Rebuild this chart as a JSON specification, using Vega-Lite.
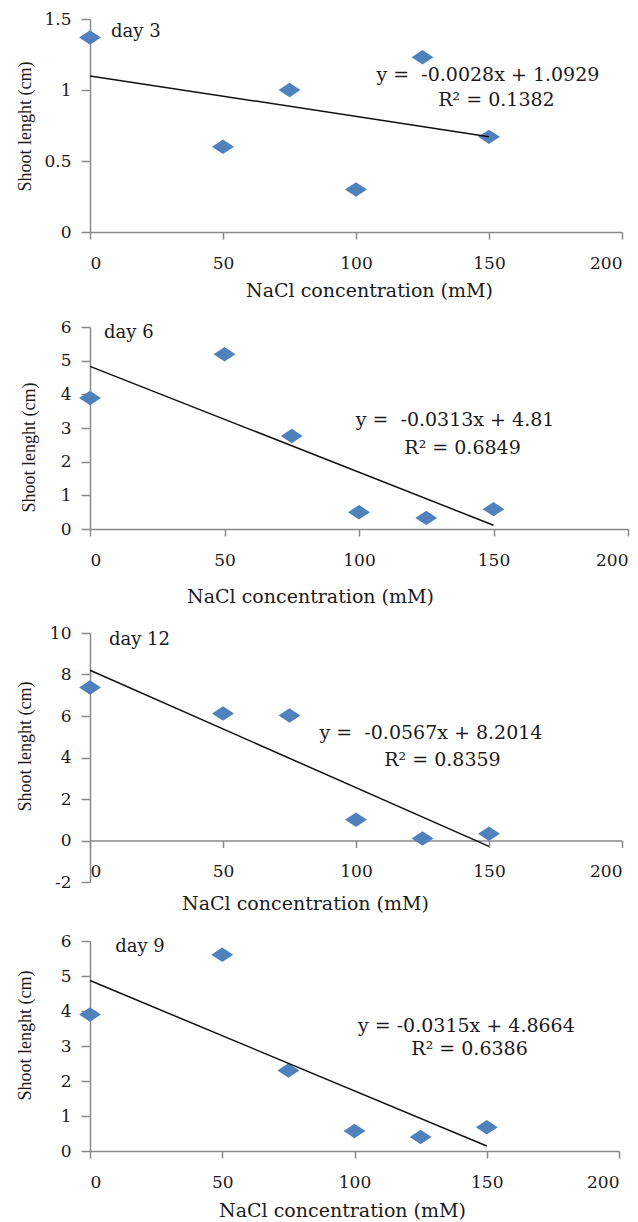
{
  "$schema": "https://vega.github.io/schema/vega-lite/v6.json",
  "padding": {"left": 15, "top": 10, "right": 5, "bottom": 5},
  "background": "white",
  "spacing": 18,
  "align": "none",
  "datasets": {
    "d3": [{"nacl": 0, "shoot": 1.37}, {"nacl": 50, "shoot": 0.6}, {"nacl": 75, "shoot": 1.0}, {"nacl": 100, "shoot": 0.3}, {"nacl": 125, "shoot": 1.23}, {"nacl": 150, "shoot": 0.67}],
    "d6": [{"nacl": 0, "shoot": 3.89}, {"nacl": 50, "shoot": 5.19}, {"nacl": 75, "shoot": 2.76}, {"nacl": 100, "shoot": 0.5}, {"nacl": 125, "shoot": 0.33}, {"nacl": 150, "shoot": 0.59}],
    "d12": [{"nacl": 0, "shoot": 7.37}, {"nacl": 50, "shoot": 6.12}, {"nacl": 75, "shoot": 6.02}, {"nacl": 100, "shoot": 1.0}, {"nacl": 125, "shoot": 0.1}, {"nacl": 150, "shoot": 0.33}],
    "d9": [{"nacl": 0, "shoot": 3.9}, {"nacl": 50, "shoot": 5.61}, {"nacl": 75, "shoot": 2.3}, {"nacl": 100, "shoot": 0.57}, {"nacl": 125, "shoot": 0.4}, {"nacl": 150, "shoot": 0.68}],
    "notes": [{"note": "label"}]
  },
  "vconcat": [
    {
      "width": 532, "height": 213,
      "layer": [
        {"data": {"name": "d3"}, "mark": {"type": "point", "shape": "M-1,0L0,-0.66L1,0L0,0.66Z", "filled": true, "color": "#4F81BD", "opacity": 1, "size": 480},
         "encoding": {
          "x": {"field": "nacl", "type": "quantitative", "scale": {"domain": [0, 200], "nice": false}, "axis": {"title": "NaCl concentration (mM)", "values": [0, 50, 100, 150, 200], "titleX": 279, "titleY": 49}},
          "y": {"field": "shoot", "type": "quantitative", "scale": {"domain": [0, 1.5], "nice": false}, "axis": {"title": "Shoot lenght (cm)", "values": [0, 0.5, 1, 1.5], "titleX": -65, "titleY": 107}}}},
        {"data": {"name": "d3"}, "transform": [{"regression": "shoot", "on": "nacl"}], "mark": {"type": "line", "color": "#111111", "strokeWidth": 1.5},
         "encoding": {"x": {"field": "nacl", "type": "quantitative", "title": "NaCl concentration (mM)"}, "y": {"field": "shoot", "type": "quantitative", "title": "Shoot lenght (cm)"}}},
        {"data": {"name": "notes"}, "mark": {"type": "text", "font": "DejaVu Serif", "fontSize": 18, "align": "left", "baseline": "middle", "color": "#1a1a1a"}, "encoding": {"x": {"datum": 7.9, "type": "quantitative"}, "y": {"datum": 1.41, "type": "quantitative"}, "text": {"value": "day 3"}}},
        {"data": {"name": "notes"}, "mark": {"type": "text", "font": "DejaVu Serif", "fontSize": 19, "align": "center", "baseline": "middle", "color": "#1a1a1a"}, "encoding": {"x": {"datum": 149.6, "type": "quantitative"}, "y": {"datum": 1.106, "type": "quantitative"}, "text": {"value": "y = \u00a0-0.0028x + 1.0929"}}},
        {"data": {"name": "notes"}, "mark": {"type": "text", "font": "DejaVu Serif", "fontSize": 19, "align": "center", "baseline": "middle", "color": "#1a1a1a"}, "encoding": {"x": {"datum": 152.8, "type": "quantitative"}, "y": {"datum": 0.93, "type": "quantitative"}, "text": {"value": "R² = 0.1382"}}}
      ]
    },
    {
      "width": 538, "height": 202,
      "layer": [
        {"data": {"name": "d6"}, "mark": {"type": "point", "shape": "M-1,0L0,-0.66L1,0L0,0.66Z", "filled": true, "color": "#4F81BD", "opacity": 1, "size": 480},
         "encoding": {
          "x": {"field": "nacl", "type": "quantitative", "scale": {"domain": [0, 200], "nice": false}, "axis": {"title": "NaCl concentration (mM)", "values": [0, 50, 100, 150, 200], "titleX": 220, "titleY": 58}},
          "y": {"field": "shoot", "type": "quantitative", "scale": {"domain": [0, 6], "nice": false}, "axis": {"title": "Shoot lenght (cm)", "values": [0, 1, 2, 3, 4, 5, 6], "tickCount": 7, "titleX": -61, "titleY": 120}}}},
        {"data": {"name": "d6"}, "transform": [{"regression": "shoot", "on": "nacl"}], "mark": {"type": "line", "color": "#111111", "strokeWidth": 1.5},
         "encoding": {"x": {"field": "nacl", "type": "quantitative", "title": "NaCl concentration (mM)"}, "y": {"field": "shoot", "type": "quantitative", "title": "Shoot lenght (cm)"}}},
        {"data": {"name": "notes"}, "mark": {"type": "text", "font": "DejaVu Serif", "fontSize": 18, "align": "left", "baseline": "middle", "color": "#1a1a1a"}, "encoding": {"x": {"datum": 5.2, "type": "quantitative"}, "y": {"datum": 5.82, "type": "quantitative"}, "text": {"value": "day 6"}}},
        {"data": {"name": "notes"}, "mark": {"type": "text", "font": "DejaVu Serif", "fontSize": 19, "align": "center", "baseline": "middle", "color": "#1a1a1a"}, "encoding": {"x": {"datum": 135.7, "type": "quantitative"}, "y": {"datum": 3.24, "type": "quantitative"}, "text": {"value": "y = \u00a0-0.0313x + 4.81"}}},
        {"data": {"name": "notes"}, "mark": {"type": "text", "font": "DejaVu Serif", "fontSize": 19, "align": "center", "baseline": "middle", "color": "#1a1a1a"}, "encoding": {"x": {"datum": 138.5, "type": "quantitative"}, "y": {"datum": 2.4, "type": "quantitative"}, "text": {"value": "R² = 0.6849"}}}
      ]
    },
    {
      "width": 532, "height": 249,
      "layer": [
        {"data": {"name": "d12"}, "mark": {"type": "point", "shape": "M-1,0L0,-0.66L1,0L0,0.66Z", "filled": true, "color": "#4F81BD", "opacity": 1, "size": 480},
         "encoding": {
          "x": {"field": "nacl", "type": "quantitative", "scale": {"domain": [0, 200], "nice": false}, "axis": {"title": "NaCl concentration (mM)", "values": [0, 50, 100, 150, 200], "offset": -41.5, "titleX": 215, "titleY": 54}},
          "y": {"field": "shoot", "type": "quantitative", "scale": {"domain": [-2, 10], "nice": false}, "axis": {"title": "Shoot lenght (cm)", "values": [-2, 0, 2, 4, 6, 8, 10], "titleX": -65, "titleY": 113}}}},
        {"data": {"name": "d12"}, "transform": [{"regression": "shoot", "on": "nacl"}], "mark": {"type": "line", "color": "#111111", "strokeWidth": 1.5},
         "encoding": {"x": {"field": "nacl", "type": "quantitative", "title": "NaCl concentration (mM)"}, "y": {"field": "shoot", "type": "quantitative", "title": "Shoot lenght (cm)"}}},
        {"data": {"name": "notes"}, "mark": {"type": "text", "font": "DejaVu Serif", "fontSize": 18, "align": "left", "baseline": "middle", "color": "#1a1a1a"}, "encoding": {"x": {"datum": 7.1, "type": "quantitative"}, "y": {"datum": 9.64, "type": "quantitative"}, "text": {"value": "day 12"}}},
        {"data": {"name": "notes"}, "mark": {"type": "text", "font": "DejaVu Serif", "fontSize": 19, "align": "center", "baseline": "middle", "color": "#1a1a1a"}, "encoding": {"x": {"datum": 128.2, "type": "quantitative"}, "y": {"datum": 5.16, "type": "quantitative"}, "text": {"value": "y = \u00a0-0.0567x + 8.2014"}}},
        {"data": {"name": "notes"}, "mark": {"type": "text", "font": "DejaVu Serif", "fontSize": 19, "align": "center", "baseline": "middle", "color": "#1a1a1a"}, "encoding": {"x": {"datum": 132.5, "type": "quantitative"}, "y": {"datum": 3.86, "type": "quantitative"}, "text": {"value": "R² = 0.8359"}}}
      ]
    },
    {
      "width": 529, "height": 210,
      "layer": [
        {"data": {"name": "d9"}, "mark": {"type": "point", "shape": "M-1,0L0,-0.66L1,0L0,0.66Z", "filled": true, "color": "#4F81BD", "opacity": 1, "size": 480},
         "encoding": {
          "x": {"field": "nacl", "type": "quantitative", "scale": {"domain": [0, 200], "nice": false}, "axis": {"title": "NaCl concentration (mM)", "values": [0, 50, 100, 150, 200], "titleX": 252, "titleY": 50}},
          "y": {"field": "shoot", "type": "quantitative", "scale": {"domain": [0, 6], "nice": false}, "axis": {"title": "Shoot lenght (cm)", "values": [0, 1, 2, 3, 4, 5, 6], "tickCount": 7, "titleX": -65, "titleY": 94}}}},
        {"data": {"name": "d9"}, "transform": [{"regression": "shoot", "on": "nacl"}], "mark": {"type": "line", "color": "#111111", "strokeWidth": 1.5},
         "encoding": {"x": {"field": "nacl", "type": "quantitative", "title": "NaCl concentration (mM)"}, "y": {"field": "shoot", "type": "quantitative", "title": "Shoot lenght (cm)"}}},
        {"data": {"name": "notes"}, "mark": {"type": "text", "font": "DejaVu Serif", "fontSize": 18, "align": "left", "baseline": "middle", "color": "#1a1a1a"}, "encoding": {"x": {"datum": 9.5, "type": "quantitative"}, "y": {"datum": 5.83, "type": "quantitative"}, "text": {"value": "day 9"}}},
        {"data": {"name": "notes"}, "mark": {"type": "text", "font": "DejaVu Serif", "fontSize": 19, "align": "center", "baseline": "middle", "color": "#1a1a1a"}, "encoding": {"x": {"datum": 142.3, "type": "quantitative"}, "y": {"datum": 3.57, "type": "quantitative"}, "text": {"value": "y = -0.0315x + 4.8664"}}},
        {"data": {"name": "notes"}, "mark": {"type": "text", "font": "DejaVu Serif", "fontSize": 19, "align": "center", "baseline": "middle", "color": "#1a1a1a"}, "encoding": {"x": {"datum": 143.5, "type": "quantitative"}, "y": {"datum": 2.91, "type": "quantitative"}, "text": {"value": "R² = 0.6386"}}}
      ]
    }
  ],
  "config": {
    "view": {"stroke": null},
    "axis": {
      "grid": false,
      "domainColor": "#8a8a8a",
      "domainWidth": 1.5,
      "tickColor": "#8a8a8a",
      "tickWidth": 1.5,
      "labelColor": "#1a1a1a",
      "labelFont": "DejaVu Serif",
      "labelFontSize": 17,
      "labelExpr": "'' + datum.value",
      "labelOverlap": false,
      "labelSeparation": 0,
      "titleFont": "DejaVu Serif",
      "titleFontSize": 19,
      "titleFontWeight": "normal",
      "titleColor": "#1a1a1a"
    },
    "axisX": {"tickSize": 7, "labelPadding": 16, "titleBaseline": "top", "titleAlign": "center"},
    "axisY": {"tickSize": 9, "labelPadding": 10, "titleFont": "Liberation Serif", "titleFontSize": 18, "titleBaseline": "middle", "titleAlign": "center", "titleAngle": -90}
  }
}
